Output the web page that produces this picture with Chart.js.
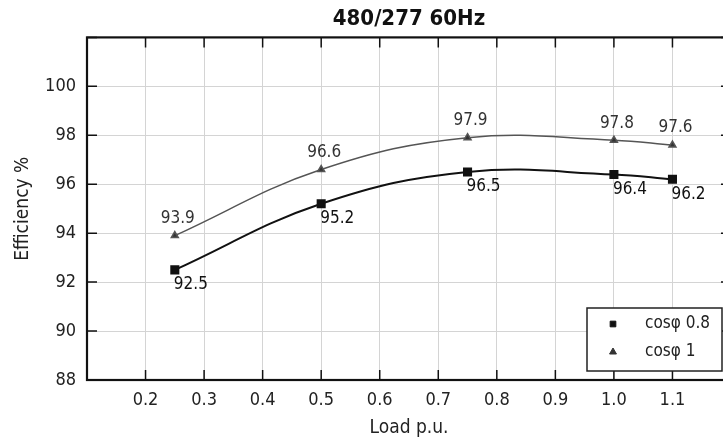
<!DOCTYPE html>
<html>
<head>
<meta charset="utf-8">
<script src="https://cdn.jsdelivr.net/npm/chart.js@4/dist/chart.umd.min.js"></script>
<style>
  html, body { margin: 0; padding: 0; background: #fff; overflow: hidden; }
  #wrap { width: 723px; height: 444px; overflow: hidden; }
  #box { width: 745px; height: 444px; }
</style>
</head>
<body>
<div id="wrap"><div id="box"><canvas id="chart"></canvas></div></div>
<script>
// Data
const loads = [0.25, 0.5, 0.75, 1.0, 1.1];
const effPf08 = [92.5, 95.2, 96.5, 96.4, 96.2];
const effPf1 = [93.9, 96.6, 97.9, 97.8, 97.6];
const seriesNames = ['cos\u03c6 0.8', 'cos\u03c6 1'];

const FONT = '"DejaVu Sans Condensed", "Liberation Sans Narrow", Roboto, sans-serif';

function toPoints(xs, ys) {
  return xs.map((x, i) => ({ x: x, y: ys[i] }));
}

// frame, inner tick marks and the boxed legend
const framePlugin = {
  id: 'frame',
  afterDraw(chart) {
    const { ctx, chartArea: a, scales } = chart;
    ctx.save();
    ctx.strokeStyle = '#111';
    ctx.lineWidth = 1.5;
    ctx.beginPath();
    scales.x.ticks.forEach(t => {
      const px = scales.x.getPixelForValue(t.value);
      ctx.moveTo(px, a.bottom); ctx.lineTo(px, a.bottom - 10);
      ctx.moveTo(px, a.top); ctx.lineTo(px, a.top + 10);
    });
    scales.y.ticks.forEach(t => {
      const py = scales.y.getPixelForValue(t.value);
      ctx.moveTo(a.left, py); ctx.lineTo(a.left + 10, py);
      ctx.moveTo(a.right, py); ctx.lineTo(a.right - 10, py);
    });
    ctx.stroke();
    ctx.lineWidth = 2.2;
    ctx.strokeRect(a.left, a.top, a.right - a.left, a.bottom - a.top);

    // legend
    const lx = 587, ly = 308, lw = 135, lh = 63;
    ctx.fillStyle = '#fff';
    ctx.fillRect(lx, ly, lw, lh);
    ctx.lineWidth = 1.5;
    ctx.strokeStyle = '#222';
    ctx.strokeRect(lx, ly, lw, lh);
    ctx.font = '17px ' + FONT;
    ctx.textBaseline = 'middle';
    ctx.textAlign = 'left';
    chart.data.datasets.forEach((ds, i) => {
      const cy = ly + 16 + i * 28;
      ctx.fillStyle = ds.backgroundColor;
      ctx.strokeStyle = ds.backgroundColor;
      ctx.lineWidth = 1;
      Chart.helpers.drawPoint(ctx, { pointStyle: ds.pointStyle, radius: 4, rotation: 0, borderWidth: 1 }, 613, cy);
      ctx.fillStyle = '#222';
      ctx.fillText(ds.label, 645, cy);
    });
    ctx.restore();
  }
};

// value labels beside each point
const valueLabels = {
  id: 'valueLabels',
  afterDatasetsDraw(chart) {
    const { ctx } = chart;
    ctx.save();
    ctx.font = '17px ' + FONT;
    ctx.textBaseline = 'middle';
    chart.data.datasets.forEach((ds, i) => {
      const meta = chart.getDatasetMeta(i);
      meta.data.forEach((pt, j) => {
        const v = ds.data[j].y.toFixed(1);
        if (i === 0) {
          ctx.fillStyle = '#111';
          ctx.textAlign = 'left';
          ctx.fillText(v, pt.x - 1, pt.y + 15);
        } else {
          ctx.fillStyle = '#333';
          ctx.textAlign = 'center';
          ctx.fillText(v, pt.x + 3, pt.y - 17);
        }
      });
    });
    ctx.restore();
  }
};

new Chart(document.getElementById('chart'), {
  type: 'line',
  data: {
    datasets: [
      {
        label: seriesNames[0],
        data: toPoints(loads, effPf08),
        borderColor: '#111',
        backgroundColor: '#111',
        borderWidth: 2,
        pointStyle: 'rect',
        pointRadius: 5,
        tension: 0.4
      },
      {
        label: seriesNames[1],
        data: toPoints(loads, effPf1),
        borderColor: '#555',
        backgroundColor: '#333',
        borderWidth: 1.5,
        pointStyle: 'triangle',
        pointRadius: 4,
        tension: 0.4
      }
    ]
  },
  options: {
    responsive: true,
    maintainAspectRatio: false,
    animation: false,
    layout: { padding: { left: 0, right: 14, top: 0, bottom: 0 } },
    plugins: {
      legend: { display: false },
      tooltip: { enabled: false },
      title: {
        display: true,
        text: '480/277 60Hz',
        fullSize: false,
        color: '#111',
        font: { family: FONT, size: 22, weight: 'bold' },
        padding: { top: 6, bottom: 5 }
      }
    },
    scales: {
      x: {
        type: 'linear',
        min: 0.1,
        max: 1.2,
        afterFit(scale) { scale.height = 64; },
        ticks: {
          stepSize: 0.1,
          padding: 10,
          color: '#222',
          font: { family: FONT, size: 18 },
          callback: v => (v < 0.15 || v > 1.15) ? '' : Number(v).toFixed(1)
        },
        grid: { color: '#d4d4d4', lineWidth: 1, drawTicks: false },
        border: { display: false },
        title: {
          display: true,
          text: 'Load p.u.',
          color: '#222',
          font: { family: FONT, size: 19 },
          padding: { bottom: 5 }
        }
      },
      y: {
        min: 88,
        max: 102,
        afterFit(scale) { scale.width = 87; },
        ticks: {
          stepSize: 2,
          padding: 11,
          color: '#222',
          font: { family: FONT, size: 18 },
          callback: v => v > 100 ? '' : v
        },
        grid: { color: '#d4d4d4', lineWidth: 1, drawTicks: false },
        border: { display: false },
        title: {
          display: true,
          text: 'Efficiency %',
          color: '#222',
          font: { family: FONT, size: 19 },
          padding: { top: 12 }
        }
      }
    }
  },
  plugins: [framePlugin, valueLabels]
});
</script>
</body>
</html>
